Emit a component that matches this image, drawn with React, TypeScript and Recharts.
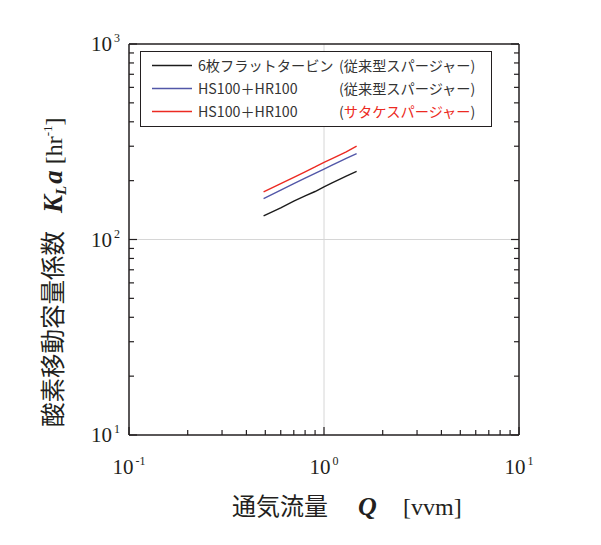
import React from "react";
import {
  LineChart,
  Line,
  XAxis,
  YAxis,
  ReferenceLine,
  Legend,
} from "recharts";

// aeration rate Q [vvm]
const qValues = [0.49, 0.6, 0.7, 0.8, 0.9, 1.0, 1.1, 1.2, 1.3, 1.47];
// KLa [1/hr]
const klaTurbine = [132, 145, 157, 167, 176, 186, 195, 203, 211, 223];
const klaConventional = [162, 179, 193, 206, 218, 229, 240, 250, 260, 275];
const klaSatake = [175, 193, 208, 222, 235, 248, 259, 270, 281, 300];

const seriesKeys = ["turbine", "conventional", "satake"];
const seriesNames = ["6枚フラットタービン", "HS100＋HR100", "HS100＋HR100"];
const spargerNames = ["従来型スパージャー", "従来型スパージャー", "サタケスパージャー"];
const seriesColors = ["#1c1c1c", "#5257a8", "#ec2a22"];

const xTicks = [0.1, 0.2, 0.3, 0.4, 0.5, 0.6, 0.7, 0.8, 0.9, 1, 2, 3, 4, 5, 6, 7, 8, 9, 10];
const yTicks = [10, 20, 30, 40, 50, 60, 70, 80, 90, 100, 200, 300, 400, 500, 600, 700, 800, 900, 1000];

const data = qValues.map((q, i) => ({
  q,
  turbine: klaTurbine[i],
  conventional: klaConventional[i],
  satake: klaSatake[i],
}));

const ink = "#231f20";
const serif = "'Liberation Serif', 'DejaVu Serif', serif";
const gothic = "'Noto Sans CJK JP', 'Noto Sans', sans-serif";

const isMajor = (v: number) => Math.abs(Math.log10(v) - Math.round(Math.log10(v))) < 1e-6;
const expOf = (v: number) => String(Math.round(Math.log10(v)));

const PowerLabel = ({ x, y, anchor, v }: any) => (
  <text x={x} y={y} textAnchor={anchor} fontFamily={serif} fontSize={21} fill={ink}>
    <tspan>10</tspan>
    <tspan dx={2} dy={-9} fontSize={12}>
      {expOf(v)}
    </tspan>
  </text>
);

const BottomTick = ({ x, y, payload }: any) => {
  const major = isMajor(payload.value);
  return (
    <g>
      <line x1={x} x2={x} y1={y} y2={y - (major ? 8 : 5)} stroke={ink} strokeWidth={1.2} />
      {major && <PowerLabel x={x} y={y + 39} anchor="middle" v={payload.value} />}
    </g>
  );
};

const TopTick = ({ x, y, payload }: any) => {
  const major = isMajor(payload.value);
  return <line x1={x} x2={x} y1={y} y2={y + (major ? 8 : 5)} stroke={ink} strokeWidth={1.2} />;
};

const LeftTick = ({ x, y, payload }: any) => {
  const major = isMajor(payload.value);
  return (
    <g>
      <line x1={x} x2={x + (major ? 8 : 5)} y1={y} y2={y} stroke={ink} strokeWidth={1.2} />
      {major && <PowerLabel x={x - 9} y={y + 7} anchor="end" v={payload.value} />}
    </g>
  );
};

const RightTick = ({ x, y, payload }: any) => {
  const major = isMajor(payload.value);
  return <line x1={x} x2={x - (major ? 8 : 5)} y1={y} y2={y} stroke={ink} strokeWidth={1.2} />;
};

const XTitle = () => (
  <text y={515} fill={ink}>
    <tspan x={232} fontFamily={gothic} fontSize={24}>
      通気流量
    </tspan>
    <tspan x={358} fontFamily={serif} fontSize={26} fontWeight="bold" fontStyle="italic">
      Q
    </tspan>
    <tspan x={403} fontFamily={serif} fontSize={24}>
      [vvm]
    </tspan>
  </text>
);

const YTitle = () => (
  <text transform="rotate(-90)" x={-427} y={62} fill={ink}>
    <tspan fontFamily={gothic} fontSize={24.5}>
      酸素移動容量係数
    </tspan>
    <tspan dx={18} fontFamily={serif} fontSize={27} fontWeight="bold" fontStyle="italic">
      K
    </tspan>
    <tspan dy={4} fontFamily={serif} fontSize={15} fontWeight="bold" fontStyle="italic">
      L
    </tspan>
    <tspan dx={2} dy={-4} fontFamily={serif} fontSize={27} fontWeight="bold" fontStyle="italic">
      a
    </tspan>
    <tspan dx={6} fontFamily={serif} fontSize={24}>
      [hr
    </tspan>
    <tspan dy={-10} fontFamily={serif} fontSize={13}>
      -1
    </tspan>
    <tspan dy={10} fontFamily={serif} fontSize={24}>
      ]
    </tspan>
  </text>
);

const LegendBox = () => (
  <div
    style={{
      position: "relative",
      width: 352,
      height: 76,
      boxSizing: "border-box",
      border: `1px solid ${ink}`,
      background: "#fff",
      fontFamily: gothic,
      fontSize: 14.2,
      color: "#333",
    }}
  >
    {seriesNames.map((name, i) => (
      <div key={i} style={{ position: "absolute", left: 0, top: 2 + i * 23, height: 22, width: "100%" }}>
        <svg
          width={42}
          height={22}
          style={{ position: "absolute", left: 10, top: 0, display: "block" }}
        >
          <line x1={1} x2={41} y1={11.5} y2={11.5} stroke={seriesColors[i]} strokeWidth={1.5} />
        </svg>
        <span style={{ position: "absolute", left: 57, top: 0, lineHeight: "22px", whiteSpace: "nowrap" }}>
          {name}
        </span>
        <span style={{ position: "absolute", left: 198, top: 0, lineHeight: "22px", whiteSpace: "nowrap" }}>
          (<span style={{ color: i === 2 ? "#ec2a22" : "#333" }}>{spargerNames[i]}</span>)
        </span>
      </div>
    ))}
  </div>
);

export default function App() {
  return (
    <div style={{ position: "absolute", left: 0, top: 0, width: 601, height: 545, background: "#fff" }}>
      <LineChart
        width={601}
        height={545}
        data={data}
        margin={{ top: 43, right: 81, bottom: 50, left: 49 }}
      >
        <XAxis
          xAxisId="b"
          dataKey="q"
          type="number"
          scale="log"
          domain={[0.1, 10]}
          allowDataOverflow
          ticks={xTicks}
          interval={0}
          height={60}
          tickSize={0}
          tickMargin={0}
          tickLine={false}
          tick={<BottomTick />}
          axisLine={{ stroke: ink, strokeWidth: 1.5 }}
          label={<XTitle />}
        />
        <XAxis
          xAxisId="t"
          orientation="top"
          type="number"
          scale="log"
          domain={[0.1, 10]}
          allowDataOverflow
          ticks={xTicks}
          interval={0}
          height={1}
          tickSize={0}
          tickMargin={0}
          tickLine={false}
          tick={<TopTick />}
          axisLine={{ stroke: ink, strokeWidth: 1.5 }}
        />
        <YAxis
          yAxisId="l"
          type="number"
          scale="log"
          domain={[10, 1000]}
          allowDataOverflow
          ticks={yTicks}
          interval={0}
          width={80}
          tickSize={0}
          tickMargin={0}
          tickLine={false}
          tick={<LeftTick />}
          axisLine={{ stroke: ink, strokeWidth: 1.5 }}
          label={<YTitle />}
        />
        <YAxis
          yAxisId="r"
          orientation="right"
          type="number"
          scale="log"
          domain={[10, 1000]}
          allowDataOverflow
          ticks={yTicks}
          interval={0}
          width={1}
          tickSize={0}
          tickMargin={0}
          tickLine={false}
          tick={<RightTick />}
          axisLine={{ stroke: ink, strokeWidth: 1.5 }}
        />
        <ReferenceLine xAxisId="b" yAxisId="l" x={1} stroke="#d6d6d6" strokeWidth={1} />
        <ReferenceLine xAxisId="b" yAxisId="l" y={100} stroke="#d6d6d6" strokeWidth={1} />
        {seriesKeys.map((key, i) => (
          <Line
            key={key}
            xAxisId="b"
            yAxisId="l"
            dataKey={key}
            name={seriesNames[i]}
            type="linear"
            stroke={seriesColors[i]}
            strokeWidth={1.4}
            dot={false}
            isAnimationActive={false}
          />
        ))}
        <Legend
          layout="vertical"
          align="center"
          verticalAlign="middle"
          wrapperStyle={{ left: 140, top: 51, width: 352, height: 76 }}
          content={<LegendBox />}
        />
      </LineChart>
    </div>
  );
}
